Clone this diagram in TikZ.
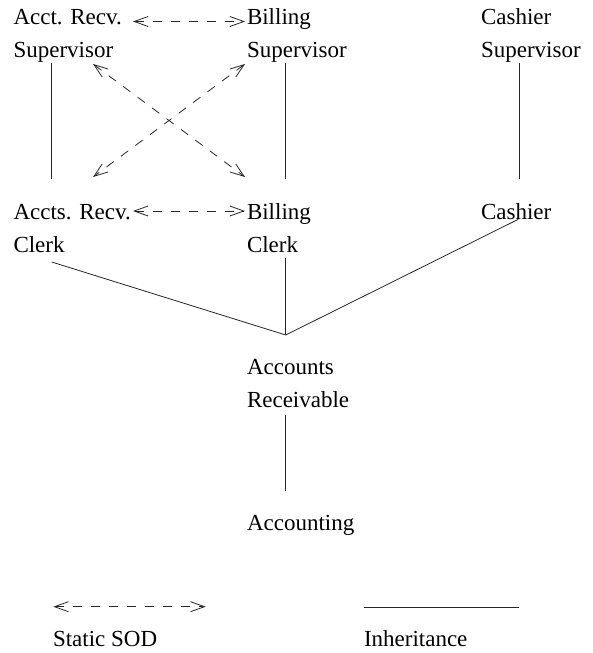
\documentclass[tikz,border=0pt]{standalone}
\usepackage{fontspec}
\setmainfont{Liberation Serif}
\usetikzlibrary{arrows.meta}
\tikzset{
  lbl/.style={inner sep=0pt, outer sep=0pt, anchor=base west, align=left,
    font=\fontsize{23}{33.3}\selectfont},
  inh/.style={line width=0.8pt, draw=black!85},
  sod/.style={line width=0.8pt, draw=black!85, dash pattern=on 9pt off 9pt,
    {Straight Barb[length=14pt,width=10pt]}-{Straight Barb[length=14pt,width=10pt]}},
}
\begin{document}
\begin{tikzpicture}[x=1pt,y=-1pt]
\useasboundingbox (0,0) rectangle (592,653);
% nodes (base anchor = baseline of the last line)
\node[lbl] (ars) at (13.5,57.3) {Acct. Recv.\\Supervisor};
\node[lbl] (bs)  at (247,57.3)  {Billing\\Supervisor};
\node[lbl] (cs)  at (481,57.3)  {Cashier\\Supervisor};
\node[lbl] (arc) at (13.5,252.3) {Accts. Recv.\\Clerk};
\node[lbl] (bc)  at (247,252.3) {Billing\\Clerk};
\node[lbl] (c)   at (481,219) {Cashier};
\node[lbl] (ar)  at (247,407.3) {Accounts\\Receivable};
\node[lbl] (acc) at (247,530.7) {Accounting};
\node[lbl] (lsod) at (53,646.7) {Static SOD};
\node[lbl] (linh) at (364,646.7) {Inheritance};
% connector end points
\coordinate (arsB) at (51.7,63);   \coordinate (arcT) at (51.7,179);
\coordinate (bsB)  at (285.7,63);  \coordinate (bcT)  at (285.7,179);
\coordinate (csB)  at (519,63);    \coordinate (cT)   at (519,179);
\coordinate (arsR) at (133,21.5);  \coordinate (bsL)  at (245,21.5);
\coordinate (arcR) at (133,211);   \coordinate (bcL)  at (245,211);
\coordinate (arsD) at (93,64);     \coordinate (bcU)  at (245,177);
\coordinate (bsD)  at (245,64);    \coordinate (arcU) at (93,177);
\coordinate (arcB) at (51.7,262);  \coordinate (bcB)  at (285.7,258);
\coordinate (cB)   at (518.3,219.3);
\coordinate (meet) at (285.7,335);
\coordinate (arB)  at (285.7,415); \coordinate (accT) at (285.7,490.7);
\coordinate (sodL) at (53.3,606.7); \coordinate (sodR) at (205.7,606.7);
\coordinate (inhL) at (364,607.3);  \coordinate (inhR) at (519.3,607.3);
% inheritance
\draw[inh] (arsB) -- (arcT);
\draw[inh] (bsB) -- (bcT);
\draw[inh] (csB) -- (cT);
\draw[inh] (arcB) -- (meet);
\draw[inh] (bcB) -- (meet);
\draw[inh] (cB) -- (meet);
\draw[inh] (arB) -- (accT);
\draw[inh] (inhL) -- (inhR);
% static SOD
\draw[sod] (arsR) -- (bsL);
\draw[sod] (arcR) -- (bcL);
\draw[sod] (arsD) -- (bcU);
\draw[sod] (bsD) -- (arcU);
\draw[sod] (sodL) -- (sodR);
\end{tikzpicture}
\end{document}
